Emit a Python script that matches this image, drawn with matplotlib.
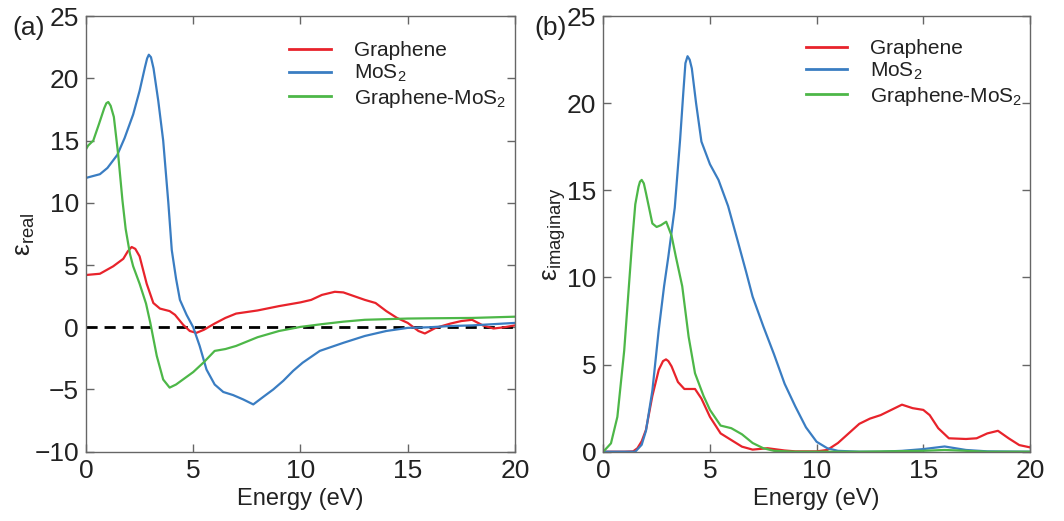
import numpy as np
import matplotlib
matplotlib.use("Agg")
import matplotlib.pyplot as plt

plt.rcParams['font.family'] = ['Liberation Sans', 'DejaVu Sans']
plt.rcParams['mathtext.fontset'] = 'custom'
plt.rcParams['mathtext.rm'] = 'Liberation Sans'
plt.rcParams['mathtext.it'] = 'Liberation Sans:italic'

# ---- (a) real part ----
gr_re_x = [0, 0.65, 1.27, 1.74, 1.95, 2.13, 2.3, 2.5, 2.83, 3.14, 3.45, 3.9, 4.15, 4.53, 4.84, 5.15, 5.5,
           6.0, 6.5, 7.0, 8.0, 9.0, 10.0, 10.5, 11.0, 11.6, 12.0, 12.5, 13.0, 13.5, 14.0, 14.5,
           15.0, 15.5, 15.8, 16.3, 17.0, 17.5, 18.0, 18.5, 19.0, 19.5, 20.0]
gr_re_y = [4.2, 4.3, 4.9, 5.5, 6.1, 6.45, 6.3, 5.7, 3.5, 1.95, 1.5, 1.3, 1.0, 0.2, -0.3, -0.45, -0.2,
           0.3, 0.75, 1.1, 1.35, 1.7, 2.0, 2.2, 2.6, 2.85, 2.8, 2.5, 2.2, 1.95, 1.3, 0.75,
           0.35, -0.3, -0.5, -0.05, 0.3, 0.5, 0.6, 0.15, -0.1, 0.0, 0.15]

mo_re_x = [0, 0.65, 1.0, 1.46, 1.8, 2.2, 2.5, 2.75, 2.85, 2.93, 3.03, 3.15, 3.37, 3.6, 3.84, 4.0, 4.2,
           4.38, 4.69, 5.0, 5.3, 5.62, 6.0, 6.4, 6.86, 7.33, 7.8, 8.26, 8.73, 9.2, 9.66,
           10.1, 10.9, 12, 13, 14, 15, 16, 17, 18, 19, 20]
mo_re_y = [12.0, 12.3, 12.8, 13.85, 15.2, 17.1, 19.0, 20.9, 21.6, 21.9, 21.7, 20.8, 18.2, 15.0, 10.0, 6.2, 3.9,
           2.2, 1.0, 0.0, -1.5, -3.4, -4.6, -5.2, -5.45, -5.8, -6.2, -5.6, -5.0, -4.3, -3.5,
           -2.85, -1.9, -1.25, -0.7, -0.3, -0.05, 0.0, 0.1, 0.15, 0.25, 0.35]

gm_re_x = [0, 0.1, 0.34, 0.6, 0.85, 0.95, 1.04, 1.15, 1.3, 1.5, 1.7, 1.85, 2.05, 2.2, 2.5, 2.8, 3.0,
           3.3, 3.6, 3.9, 4.2, 4.6, 5.0, 5.5, 6.0, 6.5, 7.0, 7.5, 8.0, 9.0, 10, 11, 12, 13,
           14, 15, 16, 18, 20]
gm_re_y = [14.3, 14.6, 15.0, 16.3, 17.6, 18.0, 18.1, 17.8, 16.9, 13.9, 10.2, 7.9, 5.9, 4.9, 3.5, 1.9, 0.35,
           -2.3, -4.2, -4.85, -4.6, -4.1, -3.6, -2.8, -1.9, -1.75, -1.5, -1.15, -0.8, -0.3, 0.03,
           0.25, 0.45, 0.6, 0.65, 0.7, 0.72, 0.75, 0.85]

# ---- (b) imaginary part ----
gr_im_x = [0, 1.0, 1.4, 1.6, 1.8, 2.0, 2.3, 2.6, 2.8, 2.94, 3.05, 3.2, 3.5, 3.8, 4.3, 4.6, 5.0, 5.5, 6.0,
           6.5, 7.0, 7.7, 8.5, 9.0, 10.0, 10.5, 11.0, 11.5, 12.0, 12.5, 13.0, 13.5, 14.0,
           14.5, 15.0, 15.3, 15.7, 16.2, 17.0, 17.5, 18.0, 18.5, 19.0, 19.5, 20.0]
gr_im_y = [0, 0, 0.02, 0.2, 0.6, 1.25, 3.2, 4.7, 5.2, 5.3, 5.2, 4.9, 4.0, 3.6, 3.6, 3.05, 2.0, 1.05, 0.67,
           0.29, 0.12, 0.2, 0.07, 0.02, 0.02, 0.1, 0.5, 1.05, 1.6, 1.9, 2.1, 2.4, 2.7,
           2.5, 2.4, 2.1, 1.35, 0.77, 0.73, 0.77, 1.05, 1.2, 0.77, 0.38, 0.25]

mo_im_x = [0, 1.5, 1.8, 2.0, 2.3, 2.6, 2.85, 3.05, 3.35, 3.6, 3.75, 3.85, 3.95, 4.05, 4.15, 4.35, 4.6,
           5.0, 5.4, 5.85, 6.3, 6.7, 7.0, 7.5, 8.0, 8.5, 9.0, 9.5, 10.0, 10.5, 11, 12, 13,
           14, 15, 16, 17, 18, 20]
mo_im_y = [0, 0, 0.4, 1.2, 3.5, 7.0, 9.5, 11.2, 14.0, 17.9, 20.6, 22.3, 22.7, 22.5, 22.0, 20.0, 17.8,
           16.5, 15.6, 14.1, 12.1, 10.3, 8.9, 7.2, 5.6, 3.9, 2.6, 1.4, 0.57, 0.2, 0.05, 0, 0,
           0.05, 0.15, 0.3, 0.1, 0.02, 0]

gm_im_x = [0, 0.36, 0.66, 0.98, 1.2, 1.35, 1.5, 1.65, 1.72, 1.8, 1.9, 2.0, 2.3, 2.5, 2.7, 2.95, 3.2,
           3.4, 3.7, 4.0, 4.3, 4.7, 5.0, 5.5, 6.0, 6.5, 7.0, 7.5, 8.0, 9.0, 12, 15, 16, 17,
           18, 20]
gm_im_y = [0, 0.48, 2.0, 5.8, 9.5, 12.0, 14.2, 15.2, 15.5, 15.6, 15.4, 14.85, 13.1, 12.9, 13.0, 13.2, 12.4,
           11.2, 9.5, 6.6, 4.5, 3.2, 2.4, 1.5, 1.35, 1.0, 0.5, 0.2, 0.05, 0, 0, 0.05, 0.1, 0.05,
           0, 0]

labels = ['Graphene', 'MoS$_2$', 'Graphene-MoS$_2$']
colors = ['#e8232b', '#3a7dc2', '#4db748']
xticks = [0, 5, 10, 15, 20]

fig = plt.figure(figsize=(10.64, 5.21), dpi=100)
ax1 = fig.add_axes([0.0808, 0.133, 0.4032, 0.836])
ax2 = fig.add_axes([0.567, 0.133, 0.401, 0.836])


def style(ax):
    for s in ax.spines.values():
        s.set_color('#666666')
        s.set_linewidth(1.0)
    ax.tick_params(direction='in', length=6, width=1, color='#666666',
                   top=True, right=True, labelsize=19, labelcolor='#222222', pad=5)
    ax.set_xlim(0, 20)
    ax.set_xticks(xticks)
    ax.set_xlabel('Energy (eV)', fontsize=17, color='#222222', labelpad=4)


ax1.axhline(0, color='black', ls=(0, (4, 2.5)), lw=2)
for xs, ys, lab, c in zip([gr_re_x, mo_re_x, gm_re_x], [gr_re_y, mo_re_y, gm_re_y], labels, colors):
    ax1.plot(xs, ys, color=c, lw=1.6, label=lab)
ax1.set_ylim(-10, 25)
ax1.set_yticks([-10, -5, 0, 5, 10, 15, 20, 25])
ax1.set_yticklabels(['\u221210', '\u22125', '0', '5', '10', '15', '20', '25'])
style(ax1)
ax1.set_ylabel('\u03b5$_{\\mathrm{real}}$', fontsize=19, color='#222222', labelpad=-2)

for xs, ys, lab, c in zip([gr_im_x, mo_im_x, gm_im_x], [gr_im_y, mo_im_y, gm_im_y], labels, colors):
    ax2.plot(xs, ys, color=c, lw=1.6, label=lab)
ax2.set_ylim(0, 25)
ax2.set_yticks([0, 5, 10, 15, 20, 25])
style(ax2)
ax2.set_ylabel('\u03b5$_{\\mathrm{imaginary}}$', fontsize=19, color='#222222', labelpad=-1)

for ax, anchor in [(ax1, (0.43, 0.985)), (ax2, (0.43, 0.99))]:
    leg = ax.legend(loc='upper left', bbox_to_anchor=anchor, frameon=False, fontsize=15,
                    handlelength=2.0, handletextpad=1.1, labelspacing=0.12)
    for t in leg.get_texts():
        t.set_color('#222222')
    for l in leg.get_lines():
        l.set_linewidth(2)

fig.text(0.012, 0.947, '(a)', fontsize=19, color='#222222', va='center')
fig.text(0.502, 0.947, '(b)', fontsize=19, color='#222222', va='center')

fig.savefig('out.png', dpi=100)
